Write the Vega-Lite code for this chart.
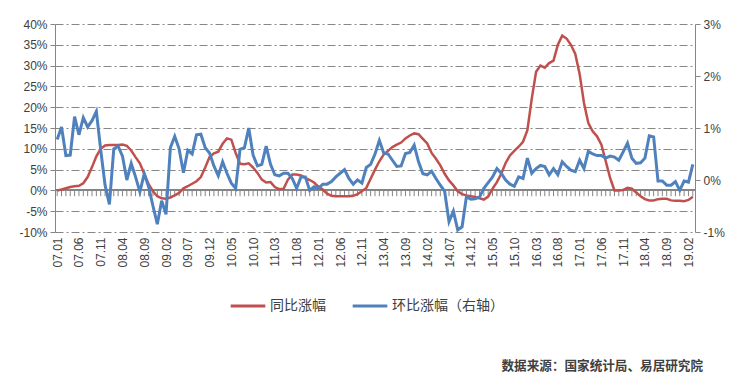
{
  "$schema": "https://vega.github.io/schema/vega-lite/v6.json",
  "width": 640,
  "height": 208,
  "autosize": {"type": "none"},
  "padding": {"left": 55, "top": 24, "right": 45, "bottom": 155},
  "background": "white",
  "config": {"font": "Liberation Sans", "view": {"stroke": null}},
  "title": {"text": "数据来源：国家统计局、易居研究院", "orient": "bottom", "anchor": "end", "frame": "group", "dx": 8, "fontSize": 12.6, "fontWeight": "bold", "color": "#404040", "font": "Noto Sans CJK SC", "offset": 47},
  "data": {"values": [
    {"month":"07.01","yoy":0.0,"mom":0.78},{"month":"07.02","yoy":0.2,"mom":1.02},{"month":"07.03","yoy":0.5,"mom":0.47},{"month":"07.04","yoy":0.8,"mom":0.48},{"month":"07.05","yoy":1.0,"mom":1.22},{"month":"07.06","yoy":1.1,"mom":0.87},{"month":"07.07","yoy":1.7,"mom":1.2},{"month":"07.08","yoy":3.2,"mom":1.02},{"month":"07.09","yoy":5.6,"mom":1.14},{"month":"07.10","yoy":8.2,"mom":1.32},{"month":"07.11","yoy":10.0,"mom":0.58},{"month":"07.12","yoy":10.8,"mom":-0.1},
    {"month":"08.01","yoy":10.9,"mom":-0.47},{"month":"08.02","yoy":10.9,"mom":0.6},{"month":"08.03","yoy":10.9,"mom":0.65},{"month":"08.04","yoy":11.0,"mom":0.46},{"month":"08.05","yoy":10.7,"mom":0.0},{"month":"08.06","yoy":9.6,"mom":0.32},{"month":"08.07","yoy":8.0,"mom":0.06},{"month":"08.08","yoy":6.5,"mom":-0.23},{"month":"08.09","yoy":4.0,"mom":0.12},{"month":"08.10","yoy":1.5,"mom":-0.13},{"month":"08.11","yoy":-0.2,"mom":-0.5},{"month":"08.12","yoy":-1.4,"mom":-0.85},
    {"month":"09.01","yoy":-1.9,"mom":-0.4},{"month":"09.02","yoy":-2.0,"mom":-0.66},{"month":"09.03","yoy":-1.7,"mom":0.62},{"month":"09.04","yoy":-1.2,"mom":0.84},{"month":"09.05","yoy":-0.6,"mom":0.6},{"month":"09.06","yoy":0.5,"mom":0.14},{"month":"09.07","yoy":1.0,"mom":0.57},{"month":"09.08","yoy":1.6,"mom":0.5},{"month":"09.09","yoy":2.2,"mom":0.87},{"month":"09.10","yoy":3.2,"mom":0.88},{"month":"09.11","yoy":5.5,"mom":0.62},{"month":"09.12","yoy":8.0,"mom":0.52},
    {"month":"10.01","yoy":8.9,"mom":0.27},{"month":"10.02","yoy":9.3,"mom":0.08},{"month":"10.03","yoy":11.2,"mom":0.35},{"month":"10.04","yoy":12.5,"mom":0.13},{"month":"10.05","yoy":12.2,"mom":-0.06},{"month":"10.06","yoy":9.0,"mom":-0.16},{"month":"10.07","yoy":6.4,"mom":0.59},{"month":"10.08","yoy":6.3,"mom":0.62},{"month":"10.09","yoy":6.5,"mom":1.0},{"month":"10.10","yoy":5.5,"mom":0.48},{"month":"10.11","yoy":4.2,"mom":0.27},{"month":"10.12","yoy":2.6,"mom":0.3},
    {"month":"11.01","yoy":1.9,"mom":0.65},{"month":"11.02","yoy":2.0,"mom":0.3},{"month":"11.03","yoy":0.8,"mom":0.1},{"month":"11.04","yoy":0.3,"mom":0.08},{"month":"11.05","yoy":0.4,"mom":0.13},{"month":"11.06","yoy":2.6,"mom":0.13},{"month":"11.07","yoy":3.8,"mom":0.03},{"month":"11.08","yoy":3.8,"mom":-0.16},{"month":"11.09","yoy":3.6,"mom":0.06},{"month":"11.10","yoy":3.0,"mom":0.06},{"month":"11.11","yoy":2.5,"mom":-0.2},{"month":"11.12","yoy":1.9,"mom":-0.13},
    {"month":"12.01","yoy":0.9,"mom":-0.16},{"month":"12.02","yoy":0.2,"mom":-0.08},{"month":"12.03","yoy":-0.8,"mom":-0.08},{"month":"12.04","yoy":-1.3,"mom":-0.03},{"month":"12.05","yoy":-1.4,"mom":0.06},{"month":"12.06","yoy":-1.4,"mom":0.13},{"month":"12.07","yoy":-1.4,"mom":0.2},{"month":"12.08","yoy":-1.4,"mom":0.03},{"month":"12.09","yoy":-1.3,"mom":-0.08},{"month":"12.10","yoy":-0.9,"mom":0.0},{"month":"12.11","yoy":-0.2,"mom":-0.06},{"month":"12.12","yoy":0.6,"mom":0.24},
    {"month":"13.01","yoy":2.8,"mom":0.3},{"month":"13.02","yoy":5.0,"mom":0.5},{"month":"13.03","yoy":7.0,"mom":0.76},{"month":"13.04","yoy":8.6,"mom":0.52},{"month":"13.05","yoy":9.5,"mom":0.5},{"month":"13.06","yoy":10.4,"mom":0.38},{"month":"13.07","yoy":11.0,"mom":0.26},{"month":"13.08","yoy":11.5,"mom":0.27},{"month":"13.09","yoy":12.5,"mom":0.51},{"month":"13.10","yoy":13.2,"mom":0.53},{"month":"13.11","yoy":13.7,"mom":0.67},{"month":"13.12","yoy":13.5,"mom":0.35},
    {"month":"14.01","yoy":12.4,"mom":0.12},{"month":"14.02","yoy":11.3,"mom":0.1},{"month":"14.03","yoy":9.0,"mom":0.17},{"month":"14.04","yoy":7.6,"mom":0.03},{"month":"14.05","yoy":6.0,"mom":-0.1},{"month":"14.06","yoy":4.0,"mom":-0.22},{"month":"14.07","yoy":2.4,"mom":-0.8},{"month":"14.08","yoy":1.2,"mom":-0.6},{"month":"14.09","yoy":-0.2,"mom":-0.96},{"month":"14.10","yoy":-0.9,"mom":-0.9},{"month":"14.11","yoy":-1.2,"mom":-0.32},{"month":"14.12","yoy":-1.4,"mom":-0.37},
    {"month":"15.01","yoy":-1.6,"mom":-0.36},{"month":"15.02","yoy":-1.9,"mom":-0.33},{"month":"15.03","yoy":-2.2,"mom":-0.16},{"month":"15.04","yoy":-1.5,"mom":-0.05},{"month":"15.05","yoy":0.4,"mom":0.06},{"month":"15.06","yoy":2.0,"mom":0.22},{"month":"15.07","yoy":4.0,"mom":0.13},{"month":"15.08","yoy":6.6,"mom":0.0},{"month":"15.09","yoy":8.4,"mom":-0.08},{"month":"15.10","yoy":9.5,"mom":-0.12},{"month":"15.11","yoy":10.5,"mom":0.06},{"month":"15.12","yoy":11.7,"mom":0.03},
    {"month":"16.01","yoy":14.5,"mom":0.42},{"month":"16.02","yoy":22.0,"mom":0.13},{"month":"16.03","yoy":28.5,"mom":0.22},{"month":"16.04","yoy":30.0,"mom":0.28},{"month":"16.05","yoy":29.5,"mom":0.26},{"month":"16.06","yoy":30.6,"mom":0.1},{"month":"16.07","yoy":31.2,"mom":0.22},{"month":"16.08","yoy":35.0,"mom":0.1},{"month":"16.09","yoy":37.2,"mom":0.35},{"month":"16.10","yoy":36.5,"mom":0.26},{"month":"16.11","yoy":35.0,"mom":0.19},{"month":"16.12","yoy":32.8,"mom":0.16},
    {"month":"17.01","yoy":28.0,"mom":0.38},{"month":"17.02","yoy":21.0,"mom":0.22},{"month":"17.03","yoy":16.2,"mom":0.55},{"month":"17.04","yoy":14.2,"mom":0.5},{"month":"17.05","yoy":13.0,"mom":0.47},{"month":"17.06","yoy":11.0,"mom":0.47},{"month":"17.07","yoy":7.0,"mom":0.42},{"month":"17.08","yoy":3.0,"mom":0.46},{"month":"17.09","yoy":0.0,"mom":0.44},{"month":"17.10","yoy":0.0,"mom":0.38},{"month":"17.11","yoy":0.1,"mom":0.54},{"month":"17.12","yoy":0.6,"mom":0.71},
    {"month":"18.01","yoy":0.4,"mom":0.42},{"month":"18.02","yoy":-0.5,"mom":0.32},{"month":"18.03","yoy":-1.4,"mom":0.33},{"month":"18.04","yoy":-2.1,"mom":0.42},{"month":"18.05","yoy":-2.4,"mom":0.85},{"month":"18.06","yoy":-2.4,"mom":0.83},{"month":"18.07","yoy":-2.1,"mom":-0.02},{"month":"18.08","yoy":-2.0,"mom":-0.02},{"month":"18.09","yoy":-2.0,"mom":-0.1},{"month":"18.10","yoy":-2.4,"mom":-0.1},{"month":"18.11","yoy":-2.5,"mom":-0.03},{"month":"18.12","yoy":-2.5,"mom":-0.2},
    {"month":"19.01","yoy":-2.6,"mom":-0.02},{"month":"19.02","yoy":-2.3,"mom":-0.04},{"month":"19.03","yoy":-1.5,"mom":0.3}
  ]},
  "encoding": {
    "x": {"field": "month", "type": "ordinal", "sort": null, "scale": {"type": "point", "padding": 0.5},
      "axis": {"values": ["07.01","07.06","07.11","08.04","08.09","09.02","09.07","09.12","10.05","10.10","11.03","11.08","12.01","12.06","12.11","13.04","13.09","14.02","14.07","14.12","15.05","15.10","16.03","16.08","17.01","17.06","17.11","18.04","18.09","19.02"],
        "labelAngle": -90, "domain": false, "ticks": false, "grid": false, "labelPadding": 5, "labelOverlap": false, "title": null, "labelFontSize": 12, "labelColor": "#404040", "labelFont": "Liberation Sans"}}
  },
  "layer": [
    {
      "layer": [
        {"mark": {"type": "rule", "color": "#868686", "strokeWidth": 1},
         "encoding": {"x": {"field": "month", "type": "ordinal", "sort": null},
           "y": {"datum": 0, "type": "quantitative", "title": null, "scale": {"domain": [-10, 40], "nice": false},
             "axis": {"values": [-10,-5,0,5,10,15,20,25,30,35,40], "labelExpr": "datum.value + '%'", "labelOverlap": false, "grid": true, "gridColor": "#868686", "gridDash": [8,3,2,3], "gridWidth": 1, "domainColor": "#868686", "tickColor": "#868686", "tickSize": 5, "labelPadding": 3, "labelFontSize": 12, "labelColor": "#404040", "labelFont": "Liberation Sans"}},
           "y2": {"datum": -1.4}}},
        {"mark": {"type": "rule", "color": "#868686", "strokeWidth": 1},
         "encoding": {"x": null,
           "y": {"datum": 0, "type": "quantitative", "title": null,
             "axis": {"values": [-10,-5,0,5,10,15,20,25,30,35,40], "labelExpr": "datum.value + '%'", "labelOverlap": false, "grid": true, "gridColor": "#868686", "gridDash": [8,3,2,3], "gridWidth": 1, "domainColor": "#868686", "tickColor": "#868686", "tickSize": 5, "labelPadding": 3, "labelFontSize": 12, "labelColor": "#404040", "labelFont": "Liberation Sans"}}}},
        {"mark": {"type": "line", "strokeWidth": 2.5},
         "encoding": {
           "y": {"field": "yoy", "type": "quantitative", "title": null,
             "axis": {"values": [-10,-5,0,5,10,15,20,25,30,35,40], "labelExpr": "datum.value + '%'", "labelOverlap": false, "grid": true, "gridColor": "#868686", "gridDash": [8,3,2,3], "gridWidth": 1, "domainColor": "#868686", "tickColor": "#868686", "tickSize": 5, "labelPadding": 3, "labelFontSize": 12, "labelColor": "#404040", "labelFont": "Liberation Sans"}},
           "color": {"datum": "同比涨幅", "type": "nominal", "scale": {"domain": ["同比涨幅", "环比涨幅（右轴）"], "range": ["#C0504D", "#4F81BD"]},
             "legend": {"orient": "none", "legendX": 174, "legendY": 263, "direction": "horizontal", "title": null, "symbolType": "stroke", "symbolSize": 1200, "symbolStrokeWidth": 3, "labelFontSize": 14, "labelFont": "Noto Sans CJK SC", "labelColor": "#404040", "labelLimit": 300, "labelOffset": 3, "columnPadding": 20}}
         }}
      ]
    },
    {"mark": {"type": "line", "strokeWidth": 3},
     "encoding": {
       "y": {"field": "mom", "type": "quantitative", "title": null, "scale": {"domain": [-1, 3], "nice": false},
         "axis": {"orient": "right", "values": [-1,0,1,2,3], "labelExpr": "datum.value + '%'", "labelOverlap": false, "grid": false, "domainColor": "#868686", "tickColor": "#868686", "tickSize": 5, "labelPadding": 3, "labelFontSize": 12, "labelColor": "#404040", "labelFont": "Liberation Sans"}},
       "color": {"datum": "环比涨幅（右轴）", "type": "nominal"}
     }}
  ],
  "resolve": {"scale": {"y": "independent"}}
}
